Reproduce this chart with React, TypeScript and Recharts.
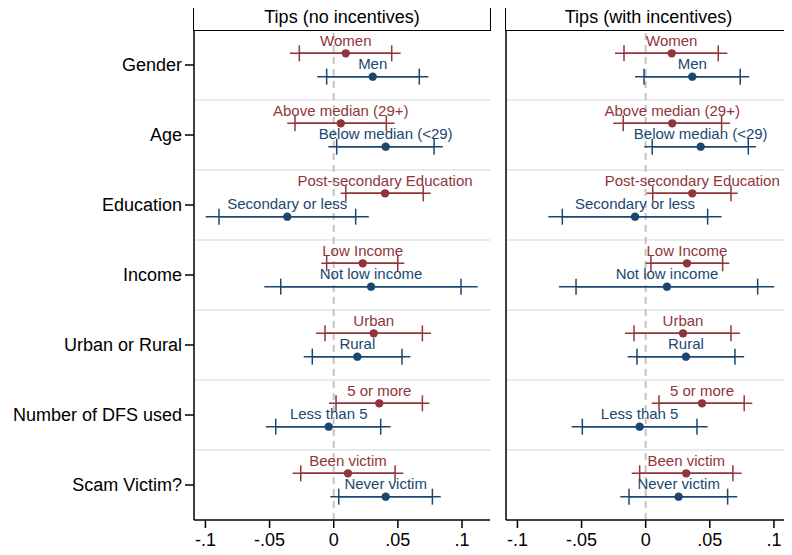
import { ScatterChart, Scatter, XAxis, YAxis, ErrorBar, ReferenceLine } from 'recharts'

const groups = ['Gender', 'Age', 'Education', 'Income', 'Urban or Rural', 'Number of DFS used', 'Scam Victim?']
const topLabels = ['Women', 'Above median (29+)', 'Post-secondary Education', 'Low Income', 'Urban', '5 or more', 'Been victim']
const bottomLabels = ['Men', 'Below median (<29)', 'Secondary or less', 'Not low income', 'Rural', 'Less than 5', 'Never victim']

// [outer lo, inner lo, estimate, inner hi, outer hi]
const noIncTop = [
    [-0.0341, -0.0268, 0.0094, 0.0452, 0.0522],
    [-0.0362, -0.0302, 0.0055, 0.041, 0.0475],
    [0.0055, 0.0094, 0.04, 0.0698, 0.0756],
    [-0.0097, -0.0055, 0.0226, 0.0499, 0.055],
    [-0.0138, -0.0068, 0.0312, 0.0691, 0.0758],
    [-0.0037, 0.0018, 0.0355, 0.0691, 0.0745],
    [-0.032, -0.0257, 0.0111, 0.0478, 0.0542],
]
const noIncBottom = [
    [-0.0128, -0.0055, 0.0304, 0.0667, 0.0737],
    [-0.0042, 0.0023, 0.0405, 0.0782, 0.085],
    [-0.0998, -0.0894, -0.0362, 0.0171, 0.0273],
    [-0.0541, -0.0413, 0.0291, 0.0992, 0.1122],
    [-0.0234, -0.0167, 0.0184, 0.0532, 0.0597],
    [-0.0528, -0.0452, -0.0039, 0.0366, 0.0444],
    [-0.0026, 0.0039, 0.0405, 0.0769, 0.0834],
]
const withIncTop = [
    [-0.0239, -0.0169, 0.0203, 0.0566, 0.0636],
    [-0.0253, -0.0175, 0.0207, 0.0592, 0.0659],
    [0.0008, 0.0055, 0.0363, 0.0665, 0.0717],
    [0.0, 0.0041, 0.0322, 0.06, 0.0652],
    [-0.0161, -0.0091, 0.0291, 0.0665, 0.0735],
    [0.0047, 0.0104, 0.0439, 0.0768, 0.0831],
    [-0.0109, -0.0047, 0.0316, 0.068, 0.0748],
]
const withIncBottom = [
    [-0.0083, -0.0013, 0.0363, 0.0737, 0.0807],
    [-0.0011, 0.0051, 0.0429, 0.08, 0.086],
    [-0.0759, -0.065, -0.0083, 0.0483, 0.0592],
    [-0.0676, -0.0543, 0.0166, 0.0873, 0.1002],
    [-0.014, -0.0068, 0.0314, 0.0696, 0.0768],
    [-0.0577, -0.0494, -0.0047, 0.04, 0.0483],
    [-0.0198, -0.013, 0.0257, 0.0639, 0.0714],
]

const xTicks = [-0.1, -0.05, 0, 0.05, 0.1]
const xTickLabels = ['-.1', '-.05', '0', '.05', '.1']

const RED = '#90353b'
const BLUE = '#1a476f'
const FONT = '"Liberation Sans", Arial, Helvetica, sans-serif'

function toRows(values: number[][], labels: string[], offset: number) {
    return values.map((v, i) => ({
        y: i + offset,
        x: v[2],
        label: labels[i],
        outer: [v[2] - v[0], v[4] - v[2]],
        inner: [v[2] - v[1], v[3] - v[2]],
    }))
}

function makeDot(color: string) {
    return (props: any) => (
        <g>
            <circle cx={props.cx} cy={props.cy} r={4.2} fill={color} />
            <text x={props.cx} y={props.cy - 7.8} textAnchor="middle" fontSize={15} fill={color} fontFamily={FONT}>
                {props.payload.label}
            </text>
        </g>
    )
}

interface PanelProps {
    title: string
    top: number[][]
    bottom: number[][]
    left: number
    width: number
    marginRight: number
    yWidth: number
    domain: [number, number]
    showGroups: boolean
}

function Panel({ title, top, bottom, left, width, marginRight, yWidth, domain, showGroups }: PanelProps) {
    const topRows = toRows(top, topLabels, 1 / 3)
    const bottomRows = toRows(bottom, bottomLabels, 2 / 3)
    const plotW = width - yWidth - marginRight
    return (
        <div style={{ position: 'absolute', left, top: 0, width, height: 555 }}>
            <ScatterChart width={width} height={555} margin={{ top: 30, right: marginRight, bottom: 0, left: 0 }}>
                <XAxis
                    type="number"
                    dataKey="x"
                    domain={domain}
                    allowDataOverflow
                    ticks={xTicks}
                    tickFormatter={(v: number) => xTickLabels[xTicks.indexOf(v)]}
                    height={35}
                    tickSize={8}
                    tickMargin={5}
                    stroke="#000"
                    strokeWidth={1.5}
                    tick={{ fill: '#000', fontSize: 18, fontFamily: FONT }}
                />
                <YAxis
                    type="number"
                    dataKey="y"
                    domain={[0, 7]}
                    reversed
                    allowDataOverflow
                    width={yWidth}
                    ticks={showGroups ? groups.map((_, i) => i + 0.5) : []}
                    tickFormatter={(v: number) => groups[Math.floor(v)]}
                    tickSize={showGroups ? 9 : 0}
                    tickMargin={3}
                    tickLine={showGroups}
                    tick={showGroups ? { fill: '#000', fontSize: 18, fontFamily: FONT } : false}
                    stroke="#000"
                    strokeWidth={1.5}
                />
                <YAxis yAxisId="frame" orientation="right" type="number" domain={[0, 7]} width={0} tick={false} tickLine={false} stroke="#000" strokeWidth={1.5} />
                {groups.slice(1).map((_, i) => (
                    <ReferenceLine key={i} y={i + 1} stroke="#e3e3e3" strokeWidth={1.5} />
                ))}
                <ReferenceLine x={0} stroke="#c4c4c4" strokeWidth={2} strokeDasharray="7 5" />
                <Scatter data={topRows} isAnimationActive={false} shape={makeDot(RED)}>
                    <ErrorBar direction="x" dataKey="outer" width={0} stroke={RED} strokeWidth={1.5} isAnimationActive={false} />
                    <ErrorBar direction="x" dataKey="inner" width={8} stroke={RED} strokeWidth={1.5} isAnimationActive={false} />
                </Scatter>
                <Scatter data={bottomRows} isAnimationActive={false} shape={makeDot(BLUE)}>
                    <ErrorBar direction="x" dataKey="outer" width={0} stroke={BLUE} strokeWidth={1.5} isAnimationActive={false} />
                    <ErrorBar direction="x" dataKey="inner" width={8} stroke={BLUE} strokeWidth={1.5} isAnimationActive={false} />
                </Scatter>
            </ScatterChart>
            {/* title strip, its bottom edge closes the plot frame */}
            <div
                style={{
                    position: 'absolute',
                    left: yWidth - 0.75,
                    top: 4.5,
                    width: plotW + 1.5,
                    height: 26.5,
                    border: '1.5px solid #000',
                    boxSizing: 'border-box',
                    textAlign: 'center',
                    fontSize: 18,
                    lineHeight: '23px',
                    fontFamily: FONT,
                    color: '#000',
                    background: '#fff',
                    zIndex: 5,
                }}
            >
                {title}
            </div>
        </div>
    )
}

export default function App() {
    return (
        <div style={{ position: 'relative', width: 792, height: 555, margin: -8, overflow: 'hidden', background: '#fff' }}>
            <Panel
                title="Tips (no incentives)"
                top={noIncTop}
                bottom={noIncBottom}
                left={0}
                width={500}
                marginRight={10}
                yWidth={194}
                domain={[-0.1089, 0.1218]}
                showGroups
            />
            <Panel
                title="Tips (with incentives)"
                top={withIncTop}
                bottom={withIncBottom}
                left={500}
                width={300}
                marginRight={9}
                yWidth={6}
                domain={[-0.1089, 0.1133]}
                showGroups={false}
            />
        </div>
    )
}
